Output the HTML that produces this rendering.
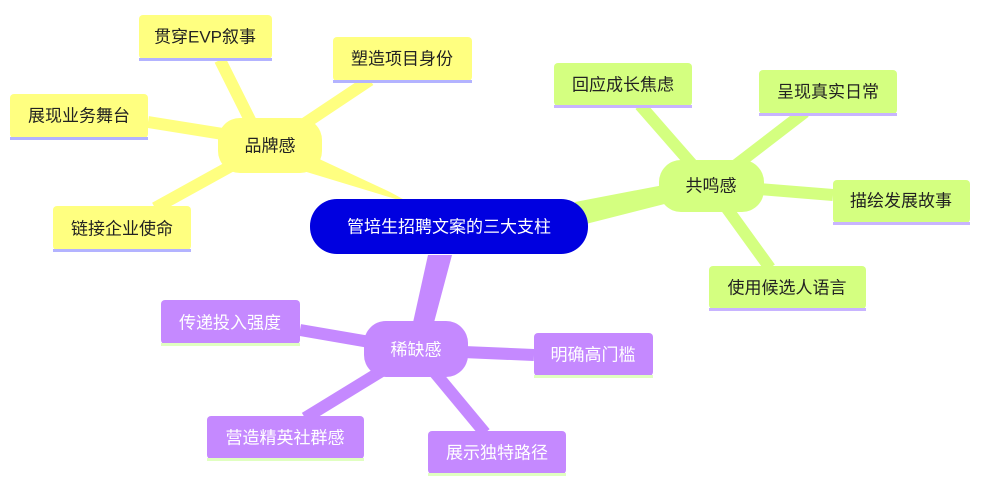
<!DOCTYPE html>
<html><head><meta charset="utf-8"><style>
html,body{margin:0;padding:0;background:#fff;}
svg text{font-family:"Liberation Sans","Noto Sans CJK SC",sans-serif;font-size:17px;text-anchor:middle;dominant-baseline:central;}
</style></head><body>
<svg width="987" height="490" viewBox="0 0 987 490" xmlns="http://www.w3.org/2000/svg">
<!-- trunks -->
<polygon points="390,192 412,204 300,170 300,150" fill="#ffff80"/>
<polygon points="575,202 578,226 700,195 700,178" fill="#d4ff80"/>
<polygon points="428,255 452,255 428,345 408,345" fill="#c589ff"/>
<g stroke="#ffff80" stroke-width="12">
<line x1="260" y1="140" x2="220" y2="60"/>
<line x1="280" y1="140" x2="370" y2="80"/>
<line x1="260" y1="140" x2="148" y2="122"/>
<line x1="260" y1="150" x2="155" y2="208"/>
</g>
<g stroke="#d4ff80" stroke-width="12">
<line x1="710" y1="185" x2="640" y2="105"/>
<line x1="710" y1="185" x2="805" y2="112"/>
<line x1="710" y1="185" x2="833" y2="195"/>
<line x1="710" y1="185" x2="770" y2="268"/>
</g>
<g stroke="#c589ff" stroke-width="12">
<line x1="416" y1="350" x2="300" y2="330"/>
<line x1="416" y1="350" x2="534" y2="355"/>
<line x1="416" y1="350" x2="305" y2="418"/>
<line x1="416" y1="350" x2="485" y2="433"/>
</g>
<rect x="310" y="199" width="278" height="55" rx="27" fill="#0000e0"/>
<text x="449" y="227" fill="#fff" font-size="18">管培生招聘文案的三大支柱</text>
<rect x="218" y="118" width="104" height="55" rx="22" fill="#ffff80"/>
<text x="270" y="146" fill="#222">品牌感</text>
<g fill="#ffff80">
<rect x="139" y="15" width="133" height="44" rx="4"/>
<rect x="333" y="37" width="139" height="44" rx="4"/>
<rect x="10" y="94" width="138" height="44" rx="4"/>
<rect x="53" y="206" width="138" height="44" rx="4"/>
</g>
<g fill="#b3b3ff">
<rect x="139" y="58" width="133" height="3"/>
<rect x="333" y="80" width="139" height="3"/>
<rect x="10" y="137" width="138" height="3"/>
<rect x="53" y="249" width="138" height="3"/>
</g>
<g fill="#222">
<text x="205" y="37">贯穿EVP叙事</text>
<text x="402" y="59">塑造项目身份</text>
<text x="79" y="116">展现业务舞台</text>
<text x="122" y="229">链接企业使命</text>
</g>
<rect x="659" y="160" width="105" height="52" rx="22" fill="#d4ff80"/>
<text x="711" y="186" fill="#222">共鸣感</text>
<g fill="#d4ff80">
<rect x="554" y="63" width="138" height="43" rx="4"/>
<rect x="759" y="70" width="138" height="44" rx="4"/>
<rect x="833" y="180" width="137" height="43" rx="4"/>
<rect x="709" y="266" width="157" height="43" rx="4"/>
</g>
<g fill="#c8b4ff">
<rect x="554" y="105" width="138" height="3"/>
<rect x="759" y="113" width="138" height="3"/>
<rect x="833" y="222" width="137" height="3"/>
<rect x="709" y="308" width="157" height="3"/>
</g>
<g fill="#222">
<text x="623" y="85">回应成长焦虑</text>
<text x="828" y="92">呈现真实日常</text>
<text x="901" y="201">描绘发展故事</text>
<text x="787" y="288">使用候选人语言</text>
</g>
<rect x="364" y="321" width="104" height="56" rx="22" fill="#c589ff"/>
<text x="416" y="350" fill="#fff">稀缺感</text>
<g fill="#c589ff">
<rect x="161" y="300" width="139" height="44" rx="4"/>
<rect x="534" y="333" width="119" height="43" rx="4"/>
<rect x="207" y="416" width="157" height="43" rx="4"/>
<rect x="428" y="431" width="138" height="43" rx="4"/>
</g>
<g fill="#e0ffc0">
<rect x="161" y="343" width="139" height="3"/>
<rect x="534" y="375" width="119" height="3"/>
<rect x="207" y="458" width="157" height="3"/>
<rect x="428" y="473" width="138" height="3"/>
</g>
<g fill="#fff">
<text x="230" y="323">传递投入强度</text>
<text x="593" y="355">明确高门槛</text>
<text x="285" y="438">营造精英社群感</text>
<text x="497" y="453">展示独特路径</text>
</g>
</svg>
</body></html>
